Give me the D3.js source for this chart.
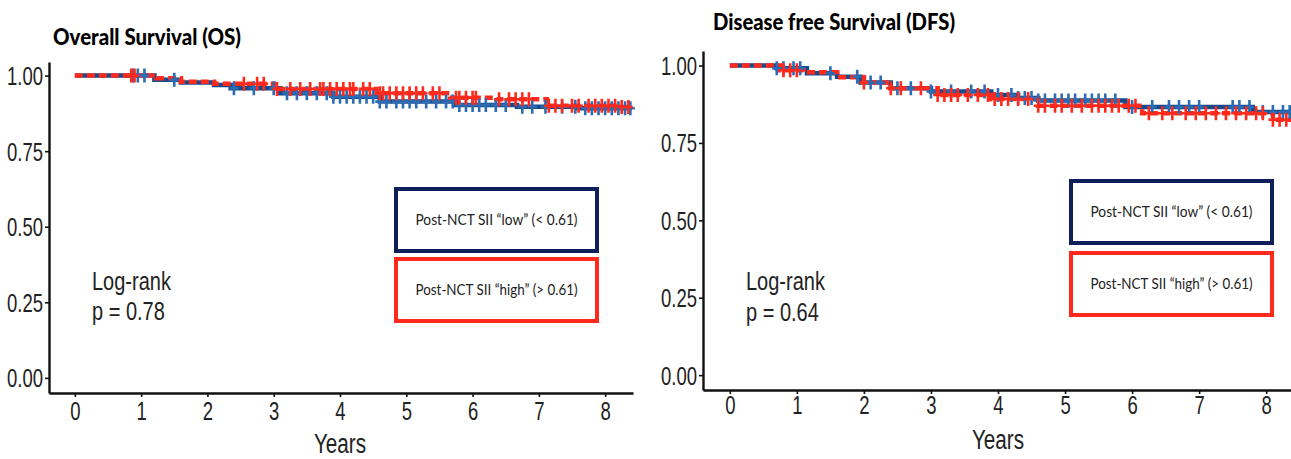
<!DOCTYPE html>
<html>
<head>
<meta charset="utf-8">
<script src="https://cdn.jsdelivr.net/npm/d3@7"></script>
<style>
  body { margin: 0; background: #fff; }
  text { font-family: "Liberation Sans", Arial, sans-serif; }
  .title, .legend-text { font-family: Lato, "Open Sans", sans-serif; }
</style>
</head>
<body>
<script>
// ---- data ----
var yTicks = [0, 0.25, 0.5, 0.75, 1];
var xTicks = [0, 1, 2, 3, 4, 5, 6, 7, 8];

// step curves: [time in years, survival]
var osLow  = [[0,1],[1.2,0.986],[1.6,0.977],[2.1,0.969],[2.35,0.958],[3.1,0.942],[3.9,0.93],[4.6,0.914],[5.75,0.903],[6.67,0.897],[7.57,0.892],[8.4,0.892]];
var osHigh = [[0,1],[1.23,0.991],[1.6,0.98],[2.1,0.973],[3.0,0.956],[4.55,0.942],[5.66,0.927],[6.36,0.922],[7.12,0.9],[8.2,0.896],[8.4,0.896]];
var dfsLow  = [[0,1],[0.7,0.991],[1.15,0.975],[1.6,0.964],[1.95,0.945],[2.4,0.927],[3.0,0.916],[3.9,0.905],[4.3,0.895],[4.6,0.887],[5.9,0.866],[7.8,0.85],[8.4,0.85]];
var dfsHigh = [[0,1],[0.75,0.985],[1.1,0.978],[1.6,0.962],[2.0,0.945],[2.4,0.927],[3.1,0.905],[3.9,0.892],[4.6,0.87],[6.15,0.846],[8.1,0.825],[8.4,0.825]];

// censoring times
var osLowCens  = [0.88,0.95,1.05,1.5,2.4,2.7,3.0,3.2,3.35,3.5,3.65,3.8,3.9,4.0,4.1,4.2,4.3,4.4,4.5,4.6,4.7,4.85,4.95,5.05,5.15,5.3,5.45,5.6,5.7,5.8,5.9,6.0,6.1,6.2,6.35,6.5,6.75,6.9,7.1,7.35,7.55,7.7,7.8,7.9,8.0,8.1,8.2,8.3,8.38];
var osHighCens = [0.85,0.9,2.55,2.75,2.85,3.05,3.25,3.4,3.55,3.7,3.75,3.85,3.95,4.05,4.15,4.2,4.35,4.45,4.6,4.65,4.75,4.85,4.95,5.05,5.15,5.25,5.4,5.5,5.75,5.8,5.9,6.0,6.05,6.4,6.55,6.65,6.75,6.85,7.15,7.25,7.35,7.5,7.6,7.75,7.85,7.95,8.05,8.15,8.25,8.35];
var dfsLowCens  = [0.7,0.8,0.95,1.05,1.5,1.9,2.1,2.25,2.5,2.7,3.0,3.3,3.6,3.8,4.0,4.2,4.3,4.4,4.5,4.6,4.7,4.85,4.95,5.05,5.15,5.3,5.4,5.5,5.6,5.75,6.0,6.3,6.55,6.7,6.85,7.0,7.5,7.6,7.75,7.95,8.1,8.25,8.35];
var dfsHighCens = [0.8,0.9,1.0,2.0,2.4,2.55,2.85,3.1,3.2,3.3,3.4,3.55,3.7,3.85,3.95,4.05,4.15,4.3,4.45,4.6,4.7,4.85,4.95,5.1,5.25,5.4,5.5,5.6,5.7,5.8,5.95,6.05,6.25,6.45,6.6,6.8,6.95,7.1,7.25,7.4,7.55,7.7,7.85,7.95,8.1,8.2,8.3];

var legendLabels = ["Post-NCT SII \u201clow\u201d (< 0.61)", "Post-NCT SII \u201chigh\u201d (> 0.61)"];

var blueLine = "#154a8c", blueCens = "#2c6cb4", red = "#ff2a1c", navy = "#0f1f5c";
var NARROW = 0.74; // squeeze the sans font to look like Arial Narrow

var svg = d3.select("body").append("svg")
            .attr("width", 1291)
            .attr("height", 459);

var panels = [
  { title: "Overall Survival (OS)", titleX: 53, titleY: 45, titleW: 188,
    low: osLow, high: osHigh, lowC: osLowCens, highC: osHighCens, p: "p = 0.78",
    xr: [49, 633], xd: [-0.39, 8.42], yr: [393, 62], yd: [-0.05, 1.045],
    lx: 396, ly1: 189, ly2: 259, lw: 201, lh: 62,
    rankX: 92, rankY: 290, pY: 320, yearsY: 453, tickY: 420 },
  { title: "Disease free Survival (DFS)", titleX: 713, titleY: 30, titleW: 242,
    low: dfsLow, high: dfsHigh, lowC: dfsLowCens, highC: dfsHighCens, p: "p = 0.64",
    xr: [703, 1291], xd: [-0.4, 8.37], yr: [390, 51], yd: [-0.048, 1.047],
    lx: 1071, ly1: 181, ly2: 253, lw: 201, lh: 62,
    rankX: 746, rankY: 290, pY: 321, yearsY: 449, tickY: 414 }
];

function survAt(steps, t) {
  var v = steps[0][1];
  steps.forEach(function(s) { if (s[0] <= t) v = s[1]; });
  return v;
}

// narrow text placed at (x,y)
function narrowText(x, y, str, size, anchor, sx) {
  return svg.append("text")
     .attr("transform", "translate(" + x + "," + y + ") scale(" + (sx || NARROW) + ",1)")
     .attr("text-anchor", anchor || "start")
     .style("font-size", size + "px").attr("fill", "#222")
     .text(str);
}

panels.forEach(function(p) {
  var x = d3.scaleLinear().domain(p.xd).range(p.xr);
  var y = d3.scaleLinear().domain(p.yd).range(p.yr);
  var g = svg.append("g");

  // axes
  var yAxis = d3.axisLeft(y).tickValues(yTicks).tickFormat(d3.format(".2f")).tickSize(4).tickSizeOuter(0);
  var xAxis = d3.axisBottom(x).tickValues(xTicks).tickFormat(d3.format("d")).tickSize(4).tickSizeOuter(0);

  var ya = g.append("g").attr("transform", "translate(" + p.xr[0] + ",0)").call(yAxis);
  var xa = g.append("g").attr("transform", "translate(0," + p.yr[0] + ")").call(xAxis);
  [ya, xa].forEach(function(a) {
    a.select(".domain").attr("stroke", "#111").attr("stroke-width", 2.4);
    a.selectAll(".tick line").attr("stroke", "#111").attr("stroke-width", 1.6);
    a.selectAll(".tick text").attr("fill", "#222").style("font-size", "25px");
  });
  ya.selectAll(".tick text").attr("x", 0).attr("dy", "0.36em")
    .attr("transform", "translate(-6,0) scale(" + NARROW + ",1)");
  xa.selectAll(".tick text").attr("y", 0).attr("dy", 0)
    .attr("transform", "translate(0," + (p.tickY - p.yr[0]) + ") scale(" + NARROW + ",1)");

  // curves
  var line = d3.line().curve(d3.curveStepAfter).x(function(d) { return x(d[0]); }).y(function(d) { return y(d[1]); });

  g.append("path").datum(p.low).attr("d", line)
   .attr("fill", "none").attr("stroke", blueLine).attr("stroke-width", 4.5);
  g.append("path").datum(p.high).attr("d", line)
   .attr("fill", "none").attr("stroke", red).attr("stroke-width", 4.5)
   .attr("stroke-dasharray", "8,4");

  function cens(times, steps, color) {
    g.selectAll(null).data(times).enter().append("path")
     .attr("d", function(t) {
        var cx = x(t), cy = y(survAt(steps, t));
        return "M" + (cx - 4.5) + "," + cy + "H" + (cx + 4.5) + "M" + cx + "," + (cy - 7) + "V" + (cy + 7);
     })
     .attr("stroke", color).attr("stroke-width", 2.6).attr("fill", "none");
  }
  cens(p.lowC, p.low, blueCens);
  cens(p.highC, p.high, red);

  // title
  svg.append("text").attr("class", "title")
     .attr("x", p.titleX).attr("y", p.titleY)
     .attr("textLength", p.titleW).attr("lengthAdjust", "spacingAndGlyphs")
     .style("font-size", "22px").style("font-weight", "900").attr("fill", "#000")
     .text(p.title);

  // x label
  narrowText((x(0) + x(8)) / 2, p.yearsY, "Years", 28, "middle");

  // legend boxes
  [[p.ly1, navy, legendLabels[0]], [p.ly2, red, legendLabels[1]]].forEach(function(b) {
    svg.append("rect").attr("x", p.lx).attr("y", b[0]).attr("width", p.lw).attr("height", p.lh)
       .attr("fill", "#fff").attr("stroke", b[1]).attr("stroke-width", 4);
    svg.append("text").attr("class", "legend-text")
       .attr("x", p.lx + p.lw / 2).attr("y", b[0] + p.lh / 2 + 5)
       .attr("text-anchor", "middle").attr("textLength", 162).attr("lengthAdjust", "spacingAndGlyphs")
       .style("font-size", "16px").attr("fill", "#222").text(b[2]);
  });

  // log-rank
  narrowText(p.rankX, p.rankY, "Log-rank", 25, "start", 0.8);
  narrowText(p.rankX, p.pY, p.p, 25, "start", 0.8);
});
</script>
</body>
</html>
